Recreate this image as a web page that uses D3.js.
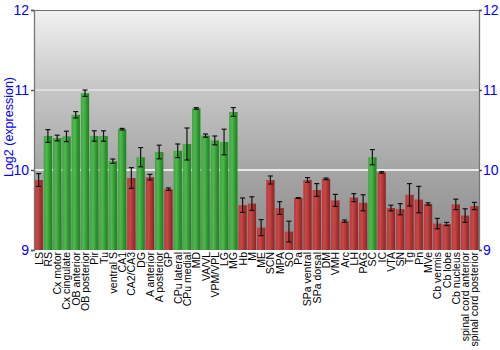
<!DOCTYPE html>
<html><head><meta charset="utf-8">
<script src="https://cdn.jsdelivr.net/npm/d3@7"></script>
<style>body{margin:0;background:#fff}svg{display:block}</style>
</head><body>
<svg id="c" width="500" height="350"></svg>
<script>
const categories = ["LS","RS","Cx motor","Cx cingulate","OB anterior","OB posterior","Pir","Tu","ventral S","CA1","CA2/CA3","DG","A anterior","A posterior","GP","CPu lateral","CPu medial","MD","VA/VL","VPM/VPL","LG","MG","Hb","M","ME","SCN","MPA","SO","Pa","SPa ventral","SPa dorsal","DM","VMH","Arc","LH","PAG","SC","IC","VTA","SN","Tg","Pn","MVe","Cb vermis","Cb lobe","Cb nucleus","spinal cord anterior","spinal cord posterior"];
const values = [9.875,10.425,10.40,10.42,10.69,10.96,10.425,10.425,10.11,10.51,9.90,10.16,9.91,10.225,9.76,10.24,10.325,10.77,10.43,10.37,10.35,10.725,9.56,9.58,9.28,9.875,9.525,9.23,9.65,9.875,9.75,9.89,9.62,9.36,9.655,9.59,10.16,9.97,9.525,9.51,9.69,9.63,9.575,9.33,9.325,9.57,9.43,9.55];
const errors = [0.08,0.08,0.035,0.065,0.04,0.04,0.065,0.065,0.027,0.01,0.13,0.12,0.035,0.085,0.015,0.085,0.2,0.01,0.02,0.055,0.16,0.055,0.09,0.085,0.1,0.05,0.08,0.13,0.005,0.03,0.08,0.01,0.075,0.015,0.05,0.1,0.095,0.01,0.035,0.07,0.14,0.165,0.015,0.065,0.02,0.065,0.085,0.045];
const yTicks = [9,10,11,12];
const threshold = 10;
const FONT = "'Liberation Sans', Arial, sans-serif";

const svg = d3.select("#c");
const L = 34, R = 479, T = 10, B = 250;
const x = d3.scaleBand().domain(categories).range([L, R]).paddingInner(0.1).paddingOuter(0.05);
const y = d3.scaleLinear().domain([9, 12]).range([B, T]);

const defs = svg.append("defs");
const bg = defs.append("linearGradient").attr("id","bg").attr("x1",0).attr("y1",0).attr("x2",0).attr("y2",1);
[[0,"#f2f2f2"],[0.33,"#c6c6c6"],[0.66,"#a6a6a6"],[1,"#8a8a8a"]].forEach(s=>bg.append("stop").attr("offset",s[0]).attr("stop-color",s[1]));
const gG = defs.append("linearGradient").attr("id","gG").attr("x1",0).attr("y1",0).attr("x2",1).attr("y2",0);
[[0,"#3fa53f"],[0.35,"#4fb84f"],[0.7,"#2f982f"],[1,"#1f7f1f"]].forEach(s=>gG.append("stop").attr("offset",s[0]).attr("stop-color",s[1]));
const gR = defs.append("linearGradient").attr("id","gR").attr("x1",0).attr("y1",0).attr("x2",1).attr("y2",0);
[[0,"#b83a3a"],[0.35,"#c84848"],[0.7,"#a83232"],[1,"#8a2626"]].forEach(s=>gR.append("stop").attr("offset",s[0]).attr("stop-color",s[1]));

svg.append("rect").attr("x",L).attr("y",T).attr("width",R-L).attr("height",B-T).attr("fill","url(#bg)");

// gridlines
svg.append("g").selectAll("line").data([10,11]).join("line")
  .attr("x1",L).attr("x2",R).attr("y1",d=>y(d)).attr("y2",d=>y(d))
  .attr("stroke",d=>d===10?"#ffffff":"#e4e4e4").attr("stroke-width",1.5);

// bars
svg.append("g").selectAll("rect").data(categories).join("rect")
  .attr("x",d=>x(d)).attr("width",x.bandwidth())
  .attr("y",(d,i)=>y(values[i])).attr("height",(d,i)=>B-y(values[i]))
  .attr("fill",(d,i)=>values[i]>threshold?"url(#gG)":"url(#gR)");

// error bars
const eg = svg.append("g").attr("stroke","#111").attr("stroke-width",1.2);
categories.forEach((c,i)=>{
  const cx = x(c)+x.bandwidth()/2;
  const y1 = y(values[i]+errors[i]), y2 = y(values[i]-errors[i]);
  eg.append("line").attr("x1",cx).attr("x2",cx).attr("y1",y1).attr("y2",y2);
  eg.append("line").attr("x1",cx-2.5).attr("x2",cx+2.5).attr("y1",y1).attr("y2",y1);
  eg.append("line").attr("x1",cx-2.5).attr("x2",cx+2.5).attr("y1",y2).attr("y2",y2);
});

// frame
svg.append("line").attr("x1",L).attr("x2",R).attr("y1",T+0.5).attr("y2",T+0.5).attr("stroke","#6e6e6e");

// axes
const gl = svg.append("g").attr("transform",`translate(${L},0)`).call(d3.axisLeft(y).tickValues(yTicks).tickSize(3).tickPadding(2).tickFormat(d3.format("d")));
const gr = svg.append("g").attr("transform",`translate(${R},0)`).call(d3.axisRight(y).tickValues(yTicks).tickSize(3).tickPadding(1).tickFormat(d3.format("d")));
[gl,gr].forEach(g=>{
  g.select(".domain").attr("stroke","#777").attr("stroke-width",1.3);
  g.selectAll(".tick line").attr("stroke","#555").attr("stroke-width",1.5);
  g.selectAll(".tick text").attr("fill","#0000ff").style("font-family",FONT).style("font-size","14px");
});

// x labels
svg.append("g").selectAll("text").data(categories).join("text")
  .attr("transform",d=>`translate(${x(d)+x.bandwidth()/2+4},${B+2}) rotate(-90)`)
  .attr("text-anchor","end")
  .style("font-family",FONT).style("font-size","10.5px").attr("fill","#000")
  .text(d=>d);

// y title
svg.append("text").attr("transform",`translate(13,127) rotate(-90)`)
  .attr("text-anchor","middle").attr("fill","#0000ff")
  .style("font-family",FONT).style("font-size","12.5px")
  .text("Log2 (expression)");
</script>
</body></html>
